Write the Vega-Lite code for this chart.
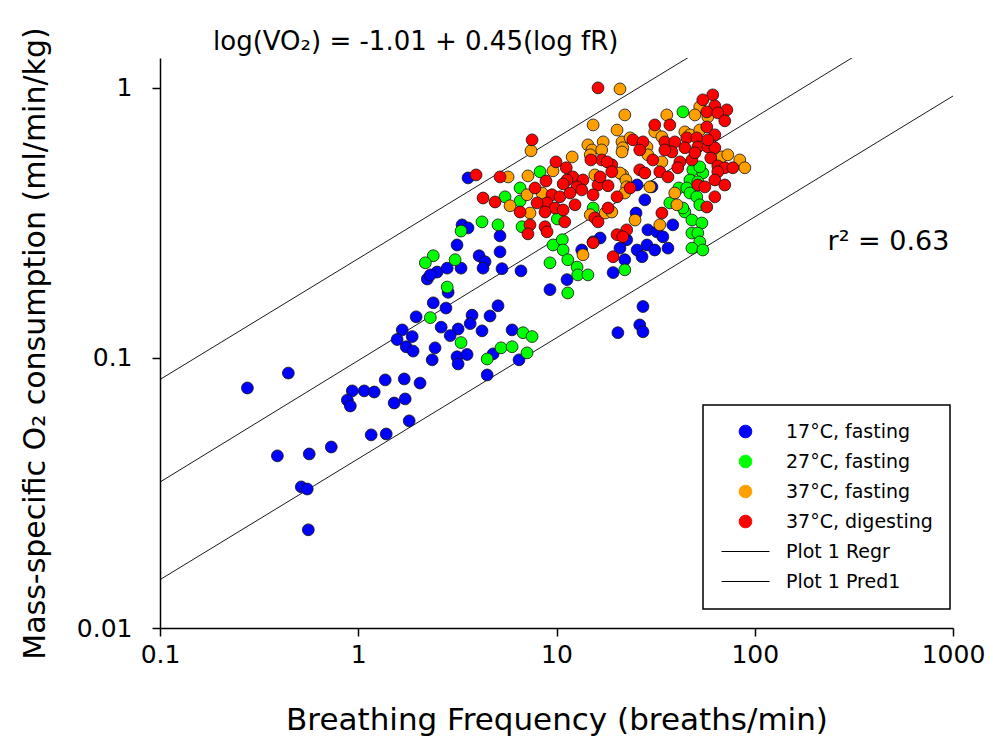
{
  "$schema": "https://vega.github.io/schema/vega-lite/v6.json",
  "width": 793,
  "height": 570,
  "autosize": {"type": "none"},
  "padding": {"left": 160, "top": 58, "right": 40, "bottom": 124},
  "background": "white",
  "title": {"text": "log(VO₂) = -1.01 + 0.45(log fR)", "anchor": "start", "frame": "group", "dx": 53, "offset": -28, "fontSize": 26, "font": "DejaVu Sans", "fontWeight": "normal", "color": "black"},
  "datasets": {
    "lines": [
      {"x": 0.1, "y": 0.0347, "s": "Plot 1 Regr", "id": "m"},
      {"x": 1000, "y": 2.19, "s": "Plot 1 Regr", "id": "m"},
      {"x": 0.1, "y": 0.0832, "s": "Plot 1 Pred1", "id": "u"},
      {"x": 1000, "y": 5.13, "s": "Plot 1 Pred1", "id": "u"},
      {"x": 0.1, "y": 0.0151, "s": "Plot 1 Pred1", "id": "l"},
      {"x": 1000, "y": 0.933, "s": "Plot 1 Pred1", "id": "l"}
    ],
    "pts": [
      {"x":0.276,"y":0.0774,"s":"17°C, fasting"},{"x":0.444,"y":0.0879,"s":"17°C, fasting"},{"x":0.391,"y":0.0434,"s":"17°C, fasting"},{"x":0.566,"y":0.0441,"s":"17°C, fasting"},{"x":0.731,"y":0.0468,"s":"17°C, fasting"},{"x":0.516,"y":0.0333,"s":"17°C, fasting"},{"x":0.553,"y":0.0327,"s":"17°C, fasting"},{"x":0.56,"y":0.0231,"s":"17°C, fasting"},{"x":0.933,"y":0.0755,"s":"17°C, fasting"},{"x":1.072,"y":0.0755,"s":"17°C, fasting"},{"x":1.204,"y":0.0748,"s":"17°C, fasting"},{"x":0.881,"y":0.0698,"s":"17°C, fasting"},{"x":0.912,"y":0.0664,"s":"17°C, fasting"},{"x":1.368,"y":0.0829,"s":"17°C, fasting"},{"x":1.706,"y":0.0836,"s":"17°C, fasting"},{"x":2.05,"y":0.0807,"s":"17°C, fasting"},{"x":1.518,"y":0.0681,"s":"17°C, fasting"},{"x":1.725,"y":0.0705,"s":"17°C, fasting"},{"x":1.807,"y":0.0585,"s":"17°C, fasting"},{"x":1.162,"y":0.0519,"s":"17°C, fasting"},{"x":1.384,"y":0.0523,"s":"17°C, fasting"},{"x":1.667,"y":0.127,"s":"17°C, fasting"},{"x":1.871,"y":0.12,"s":"17°C, fasting"},{"x":1.571,"y":0.117,"s":"17°C, fasting"},{"x":1.745,"y":0.11,"s":"17°C, fasting"},{"x":1.892,"y":0.106,"s":"17°C, fasting"},{"x":1.959,"y":0.142,"s":"17°C, fasting"},{"x":2.36,"y":0.0984,"s":"17°C, fasting"},{"x":3.58,"y":0.464,"s":"17°C, fasting"},{"x":3.34,"y":0.311,"s":"17°C, fasting"},{"x":3.58,"y":0.303,"s":"17°C, fasting"},{"x":3.15,"y":0.262,"s":"17°C, fasting"},{"x":5.19,"y":0.283,"s":"17°C, fasting"},{"x":5.19,"y":0.247,"s":"17°C, fasting"},{"x":4.07,"y":0.239,"s":"17°C, fasting"},{"x":4.36,"y":0.227,"s":"17°C, fasting"},{"x":4.26,"y":0.215,"s":"17°C, fasting"},{"x":5.31,"y":0.214,"s":"17°C, fasting"},{"x":6.62,"y":0.21,"s":"17°C, fasting"},{"x":2.5,"y":0.208,"s":"17°C, fasting"},{"x":2.81,"y":0.215,"s":"17°C, fasting"},{"x":3.3,"y":0.215,"s":"17°C, fasting"},{"x":2.23,"y":0.196,"s":"17°C, fasting"},{"x":2.31,"y":0.203,"s":"17°C, fasting"},{"x":2.84,"y":0.175,"s":"17°C, fasting"},{"x":2.39,"y":0.16,"s":"17°C, fasting"},{"x":2.77,"y":0.153,"s":"17°C, fasting"},{"x":3.75,"y":0.144,"s":"17°C, fasting"},{"x":3.67,"y":0.134,"s":"17°C, fasting"},{"x":5.07,"y":0.156,"s":"17°C, fasting"},{"x":4.62,"y":0.143,"s":"17°C, fasting"},{"x":4.21,"y":0.126,"s":"17°C, fasting"},{"x":2.62,"y":0.13,"s":"17°C, fasting"},{"x":3.19,"y":0.128,"s":"17°C, fasting"},{"x":2.91,"y":0.121,"s":"17°C, fasting"},{"x":2.44,"y":0.109,"s":"17°C, fasting"},{"x":3.15,"y":0.101,"s":"17°C, fasting"},{"x":3.54,"y":0.103,"s":"17°C, fasting"},{"x":3.19,"y":0.095,"s":"17°C, fasting"},{"x":4.79,"y":0.1035,"s":"17°C, fasting"},{"x":5.97,"y":0.127,"s":"17°C, fasting"},{"x":6.47,"y":0.0984,"s":"17°C, fasting"},{"x":4.47,"y":0.0865,"s":"17°C, fasting"},{"x":13.4,"y":0.251,"s":"17°C, fasting"},{"x":11.3,"y":0.195,"s":"17°C, fasting"},{"x":9.27,"y":0.179,"s":"17°C, fasting"},{"x":16.6,"y":0.278,"s":"17°C, fasting"},{"x":15.3,"y":0.269,"s":"17°C, fasting"},{"x":22.6,"y":0.274,"s":"17°C, fasting"},{"x":20.9,"y":0.255,"s":"17°C, fasting"},{"x":22.1,"y":0.231,"s":"17°C, fasting"},{"x":25.5,"y":0.251,"s":"17°C, fasting"},{"x":27.0,"y":0.237,"s":"17°C, fasting"},{"x":28.6,"y":0.262,"s":"17°C, fasting"},{"x":19.3,"y":0.207,"s":"17°C, fasting"},{"x":27.3,"y":0.155,"s":"17°C, fasting"},{"x":20.4,"y":0.124,"s":"17°C, fasting"},{"x":26.3,"y":0.1325,"s":"17°C, fasting"},{"x":27.3,"y":0.125,"s":"17°C, fasting"},{"x":28.9,"y":0.298,"s":"17°C, fasting"},{"x":32.1,"y":0.293,"s":"17°C, fasting"},{"x":34.4,"y":0.281,"s":"17°C, fasting"},{"x":36.5,"y":0.255,"s":"17°C, fasting"},{"x":31.3,"y":0.251,"s":"17°C, fasting"},{"x":38.6,"y":0.311,"s":"17°C, fasting"},{"x":27.9,"y":0.385,"s":"17°C, fasting"},{"x":25.5,"y":0.437,"s":"17°C, fasting"},{"x":30.3,"y":0.43,"s":"17°C, fasting"},{"x":25.2,"y":0.344,"s":"17°C, fasting"},
      {"x":2.31,"y":0.141,"s":"27°C, fasting"},{"x":3.3,"y":0.295,"s":"27°C, fasting"},{"x":4.21,"y":0.319,"s":"27°C, fasting"},{"x":5.07,"y":0.311,"s":"27°C, fasting"},{"x":2.39,"y":0.239,"s":"27°C, fasting"},{"x":2.18,"y":0.225,"s":"27°C, fasting"},{"x":3.08,"y":0.231,"s":"27°C, fasting"},{"x":2.81,"y":0.183,"s":"27°C, fasting"},{"x":3.3,"y":0.114,"s":"27°C, fasting"},{"x":4.47,"y":0.0991,"s":"27°C, fasting"},{"x":5.25,"y":0.109,"s":"27°C, fasting"},{"x":5.97,"y":0.11,"s":"27°C, fasting"},{"x":6.78,"y":0.124,"s":"27°C, fasting"},{"x":7.53,"y":0.12,"s":"27°C, fasting"},{"x":7.1,"y":0.1044,"s":"27°C, fasting"},{"x":8.26,"y":0.489,"s":"27°C, fasting"},{"x":6.55,"y":0.426,"s":"27°C, fasting"},{"x":5.5,"y":0.395,"s":"27°C, fasting"},{"x":6.55,"y":0.381,"s":"27°C, fasting"},{"x":10.1,"y":0.327,"s":"27°C, fasting"},{"x":6.7,"y":0.306,"s":"27°C, fasting"},{"x":9.6,"y":0.262,"s":"27°C, fasting"},{"x":10.7,"y":0.274,"s":"27°C, fasting"},{"x":10.8,"y":0.251,"s":"27°C, fasting"},{"x":11.4,"y":0.231,"s":"27°C, fasting"},{"x":9.27,"y":0.225,"s":"27°C, fasting"},{"x":12.7,"y":0.217,"s":"27°C, fasting"},{"x":12.8,"y":0.203,"s":"27°C, fasting"},{"x":14.4,"y":0.203,"s":"27°C, fasting"},{"x":11.4,"y":0.174,"s":"27°C, fasting"},{"x":15.3,"y":0.359,"s":"27°C, fasting"},{"x":22.1,"y":0.212,"s":"27°C, fasting"},{"x":43.4,"y":0.815,"s":"27°C, fasting"},{"x":48.7,"y":0.497,"s":"27°C, fasting"},{"x":54.7,"y":0.484,"s":"27°C, fasting"},{"x":52.8,"y":0.51,"s":"27°C, fasting"},{"x":47.1,"y":0.456,"s":"27°C, fasting"},{"x":51.6,"y":0.449,"s":"27°C, fasting"},{"x":41.4,"y":0.426,"s":"27°C, fasting"},{"x":45.4,"y":0.426,"s":"27°C, fasting"},{"x":47.1,"y":0.408,"s":"27°C, fasting"},{"x":51.0,"y":0.395,"s":"27°C, fasting"},{"x":52.8,"y":0.369,"s":"27°C, fasting"},{"x":37.3,"y":0.375,"s":"27°C, fasting"},{"x":44.4,"y":0.347,"s":"27°C, fasting"},{"x":48.2,"y":0.324,"s":"27°C, fasting"},{"x":54.1,"y":0.316,"s":"27°C, fasting"},{"x":48.2,"y":0.29,"s":"27°C, fasting"},{"x":51.6,"y":0.29,"s":"27°C, fasting"},{"x":52.8,"y":0.269,"s":"27°C, fasting"},{"x":48.2,"y":0.255,"s":"27°C, fasting"},{"x":54.7,"y":0.251,"s":"27°C, fasting"},{"x":43.4,"y":0.359,"s":"27°C, fasting"},
      {"x":5.7,"y":0.468,"s":"37°C, fasting"},{"x":20.9,"y":0.991,"s":"37°C, fasting"},{"x":22.1,"y":0.794,"s":"37°C, fasting"},{"x":15.3,"y":0.729,"s":"37°C, fasting"},{"x":20.2,"y":0.698,"s":"37°C, fasting"},{"x":7.44,"y":0.585,"s":"37°C, fasting"},{"x":14.4,"y":0.615,"s":"37°C, fasting"},{"x":17.2,"y":0.631,"s":"37°C, fasting"},{"x":15.1,"y":0.589,"s":"37°C, fasting"},{"x":16.9,"y":0.589,"s":"37°C, fasting"},{"x":21.4,"y":0.631,"s":"37°C, fasting"},{"x":21.6,"y":0.6,"s":"37°C, fasting"},{"x":12.0,"y":0.555,"s":"37°C, fasting"},{"x":14.8,"y":0.565,"s":"37°C, fasting"},{"x":9.6,"y":0.493,"s":"37°C, fasting"},{"x":7.18,"y":0.472,"s":"37°C, fasting"},{"x":15.6,"y":0.476,"s":"37°C, fasting"},{"x":16.6,"y":0.445,"s":"37°C, fasting"},{"x":21.6,"y":0.476,"s":"37°C, fasting"},{"x":7.1,"y":0.402,"s":"37°C, fasting"},{"x":8.45,"y":0.408,"s":"37°C, fasting"},{"x":5.83,"y":0.366,"s":"37°C, fasting"},{"x":7.35,"y":0.344,"s":"37°C, fasting"},{"x":14.8,"y":0.339,"s":"37°C, fasting"},{"x":17.6,"y":0.344,"s":"37°C, fasting"},{"x":13.6,"y":0.241,"s":"37°C, fasting"},{"x":52.8,"y":0.851,"s":"37°C, fasting"},{"x":36.0,"y":0.794,"s":"37°C, fasting"},{"x":49.9,"y":0.794,"s":"37°C, fasting"},{"x":58.0,"y":0.781,"s":"37°C, fasting"},{"x":31.3,"y":0.687,"s":"37°C, fasting"},{"x":34.0,"y":0.659,"s":"37°C, fasting"},{"x":44.4,"y":0.687,"s":"37°C, fasting"},{"x":47.1,"y":0.67,"s":"37°C, fasting"},{"x":23.5,"y":0.653,"s":"37°C, fasting"},{"x":21.4,"y":0.579,"s":"37°C, fasting"},{"x":28.6,"y":0.604,"s":"37°C, fasting"},{"x":28.9,"y":0.565,"s":"37°C, fasting"},{"x":34.0,"y":0.532,"s":"37°C, fasting"},{"x":68.2,"y":0.555,"s":"37°C, fasting"},{"x":20.9,"y":0.484,"s":"37°C, fasting"},{"x":22.4,"y":0.456,"s":"37°C, fasting"},{"x":22.6,"y":0.43,"s":"37°C, fasting"},{"x":29.6,"y":0.43,"s":"37°C, fasting"},{"x":22.1,"y":0.408,"s":"37°C, fasting"},{"x":39.5,"y":0.408,"s":"37°C, fasting"},{"x":40.5,"y":0.369,"s":"37°C, fasting"},{"x":33.2,"y":0.311,"s":"37°C, fasting"},{"x":24.9,"y":0.324,"s":"37°C, fasting"},{"x":19.0,"y":0.347,"s":"37°C, fasting"},{"x":52.8,"y":0.698,"s":"37°C, fasting"},{"x":73.1,"y":0.565,"s":"37°C, fasting"},{"x":84.0,"y":0.541,"s":"37°C, fasting"},{"x":89.1,"y":0.506,"s":"37°C, fasting"},
      {"x":3.93,"y":0.476,"s":"37°C, digesting"},{"x":5.19,"y":0.468,"s":"37°C, digesting"},{"x":16.2,"y":1.0,"s":"37°C, digesting"},{"x":7.53,"y":0.642,"s":"37°C, digesting"},{"x":9.94,"y":0.532,"s":"37°C, digesting"},{"x":16.9,"y":0.541,"s":"37°C, digesting"},{"x":19.0,"y":0.519,"s":"37°C, digesting"},{"x":11.2,"y":0.506,"s":"37°C, digesting"},{"x":8.85,"y":0.452,"s":"37°C, digesting"},{"x":12.1,"y":0.468,"s":"37°C, digesting"},{"x":13.6,"y":0.456,"s":"37°C, digesting"},{"x":11.3,"y":0.456,"s":"37°C, digesting"},{"x":12.7,"y":0.43,"s":"37°C, digesting"},{"x":16.2,"y":0.437,"s":"37°C, digesting"},{"x":18.2,"y":0.434,"s":"37°C, digesting"},{"x":7.79,"y":0.426,"s":"37°C, digesting"},{"x":9.49,"y":0.402,"s":"37°C, digesting"},{"x":10.4,"y":0.395,"s":"37°C, digesting"},{"x":11.7,"y":0.408,"s":"37°C, digesting"},{"x":13.4,"y":0.419,"s":"37°C, digesting"},{"x":15.3,"y":0.402,"s":"37°C, digesting"},{"x":20.2,"y":0.395,"s":"37°C, digesting"},{"x":4.26,"y":0.391,"s":"37°C, digesting"},{"x":4.9,"y":0.378,"s":"37°C, digesting"},{"x":6.55,"y":0.347,"s":"37°C, digesting"},{"x":8.96,"y":0.375,"s":"37°C, digesting"},{"x":9.83,"y":0.359,"s":"37°C, digesting"},{"x":8.75,"y":0.347,"s":"37°C, digesting"},{"x":12.4,"y":0.369,"s":"37°C, digesting"},{"x":10.8,"y":0.353,"s":"37°C, digesting"},{"x":15.6,"y":0.33,"s":"37°C, digesting"},{"x":16.2,"y":0.319,"s":"37°C, digesting"},{"x":18.2,"y":0.359,"s":"37°C, digesting"},{"x":11.0,"y":0.319,"s":"37°C, digesting"},{"x":7.35,"y":0.311,"s":"37°C, digesting"},{"x":7.18,"y":0.288,"s":"37°C, digesting"},{"x":8.75,"y":0.306,"s":"37°C, digesting"},{"x":8.96,"y":0.293,"s":"37°C, digesting"},{"x":15.3,"y":0.267,"s":"37°C, digesting"},{"x":20.2,"y":0.286,"s":"37°C, digesting"},{"x":22.6,"y":0.298,"s":"37°C, digesting"},{"x":19.3,"y":0.237,"s":"37°C, digesting"},{"x":7.98,"y":0.375,"s":"37°C, digesting"},{"x":10.8,"y":0.441,"s":"37°C, digesting"},{"x":14.9,"y":0.541,"s":"37°C, digesting"},{"x":61.4,"y":0.942,"s":"37°C, digesting"},{"x":54.7,"y":0.903,"s":"37°C, digesting"},{"x":62.9,"y":0.858,"s":"37°C, digesting"},{"x":72.3,"y":0.829,"s":"37°C, digesting"},{"x":57.3,"y":0.815,"s":"37°C, digesting"},{"x":65.1,"y":0.808,"s":"37°C, digesting"},{"x":70.6,"y":0.755,"s":"37°C, digesting"},{"x":31.3,"y":0.729,"s":"37°C, digesting"},{"x":37.3,"y":0.729,"s":"37°C, digesting"},{"x":57.3,"y":0.717,"s":"37°C, digesting"},{"x":62.9,"y":0.67,"s":"37°C, digesting"},{"x":45.4,"y":0.653,"s":"37°C, digesting"},{"x":51.0,"y":0.653,"s":"37°C, digesting"},{"x":24.3,"y":0.642,"s":"37°C, digesting"},{"x":27.3,"y":0.631,"s":"37°C, digesting"},{"x":26.3,"y":0.589,"s":"37°C, digesting"},{"x":35.2,"y":0.631,"s":"37°C, digesting"},{"x":39.5,"y":0.631,"s":"37°C, digesting"},{"x":44.4,"y":0.6,"s":"37°C, digesting"},{"x":38.2,"y":0.579,"s":"37°C, digesting"},{"x":51.6,"y":0.604,"s":"37°C, digesting"},{"x":58.0,"y":0.604,"s":"37°C, digesting"},{"x":62.9,"y":0.6,"s":"37°C, digesting"},{"x":58.0,"y":0.642,"s":"37°C, digesting"},{"x":30.6,"y":0.541,"s":"37°C, digesting"},{"x":41.9,"y":0.532,"s":"37°C, digesting"},{"x":48.2,"y":0.541,"s":"37°C, digesting"},{"x":40.9,"y":0.506,"s":"37°C, digesting"},{"x":60.0,"y":0.55,"s":"37°C, digesting"},{"x":65.1,"y":0.514,"s":"37°C, digesting"},{"x":70.6,"y":0.506,"s":"37°C, digesting"},{"x":77.5,"y":0.506,"s":"37°C, digesting"},{"x":65.1,"y":0.489,"s":"37°C, digesting"},{"x":18.0,"y":0.532,"s":"37°C, digesting"},{"x":26.3,"y":0.497,"s":"37°C, digesting"},{"x":27.9,"y":0.484,"s":"37°C, digesting"},{"x":33.2,"y":0.489,"s":"37°C, digesting"},{"x":36.5,"y":0.468,"s":"37°C, digesting"},{"x":23.5,"y":0.426,"s":"37°C, digesting"},{"x":62.9,"y":0.456,"s":"37°C, digesting"},{"x":70.6,"y":0.437,"s":"37°C, digesting"},{"x":51.6,"y":0.437,"s":"37°C, digesting"},{"x":56.0,"y":0.43,"s":"37°C, digesting"},{"x":62.9,"y":0.395,"s":"37°C, digesting"},{"x":57.3,"y":0.362,"s":"37°C, digesting"},{"x":34.0,"y":0.344,"s":"37°C, digesting"},{"x":16.6,"y":0.468,"s":"37°C, digesting"},{"x":35.2,"y":0.589,"s":"37°C, digesting"},{"x":49.9,"y":0.575,"s":"37°C, digesting"},{"x":21.6,"y":0.281,"s":"37°C, digesting"},{"x":19.0,"y":0.489,"s":"37°C, digesting"}
    ]
  },
  "encoding": {
    "x": {"field": "x", "type": "quantitative", "scale": {"type": "log", "domain": [0.1, 1000], "nice": false},
      "axis": {"values": [0.1, 1, 10, 100, 1000], "format": "~g", "title": "Breathing Frequency (breaths/min)"}},
    "y": {"field": "y", "type": "quantitative", "scale": {"type": "log", "domain": [0.01, 1.29], "nice": false},
      "axis": {"values": [0.01, 0.1, 1], "format": "~g", "title": "Mass-specific O₂ consumption (ml/min/kg)"}}
  },
  "layer": [
    {
      "data": {"name": "lines"},
      "mark": {"type": "line", "clip": true, "strokeWidth": 0.9},
      "encoding": {
        "color": {"field": "s", "type": "nominal",
          "scale": {"domain": ["17°C, fasting", "27°C, fasting", "37°C, fasting", "37°C, digesting", "Plot 1 Regr", "Plot 1 Pred1"],
                    "range": ["#0000FF", "#00FF00", "#FFA000", "#FF0000", "#000000", "#000000"]},
          "legend": {"title": null, "encode": {"symbols": {"update": {"size": {"signal": "indexof(['Plot 1 Regr','Plot 1 Pred1'], datum.value) >= 0 ? 2300 : 160"}}}}}},
        "detail": {"field": "id"}
      }
    },
    {
      "data": {"name": "pts"},
      "mark": {"type": "point", "filled": true, "opacity": 1, "stroke": "#111111", "strokeWidth": 0.8, "size": 140},
      "encoding": {
        "color": {"field": "s", "type": "nominal",
          "scale": {"domain": ["17°C, fasting", "27°C, fasting", "37°C, fasting", "37°C, digesting", "Plot 1 Regr", "Plot 1 Pred1"],
                    "range": ["#0000FF", "#00FF00", "#FFA000", "#FF0000", "#000000", "#000000"]},
          "legend": {"title": null, "encode": {"symbols": {"update": {"size": {"signal": "indexof(['Plot 1 Regr','Plot 1 Pred1'], datum.value) >= 0 ? 2300 : 160"}}}}}},
        "shape": {"field": "s", "type": "nominal",
          "scale": {"domain": ["17°C, fasting", "27°C, fasting", "37°C, fasting", "37°C, digesting", "Plot 1 Regr", "Plot 1 Pred1"],
                    "range": ["circle", "circle", "circle", "circle", "stroke", "stroke"]},
          "legend": {"title": null, "encode": {"symbols": {"update": {"size": {"signal": "indexof(['Plot 1 Regr','Plot 1 Pred1'], datum.value) >= 0 ? 2300 : 160"}}}}}}
      }
    },
    {
      "data": {"values": [{"x": 233, "y": 0.269, "t": "r² = 0.63"}]},
      "mark": {"type": "text", "align": "left", "baseline": "middle", "fontSize": 27, "font": "DejaVu Sans", "color": "black"},
      "encoding": {"text": {"field": "t"}}
    }
  ],
  "config": {
    "view": {"stroke": null},
    "axis": {"domainColor": "black", "domainWidth": 1.5, "tickColor": "black", "tickWidth": 1.5, "tickSize": 8,
      "labelFont": "DejaVu Sans", "labelFontSize": 25, "labelColor": "black", "labelFlush": false, "labelOverlap": false, "labelBound": false,
      "titleFont": "DejaVu Sans", "titleFontSize": 31, "titleFontWeight": "normal", "titleColor": "black", "grid": false},
    "axisX": {"labelPadding": 6, "titlePadding": 38},
    "axisY": {"labelPadding": 20, "titlePadding": 26, "titleFontSize": 30},
    "legend": {"orient": "none", "legendX": 543, "legendY": 347, "strokeColor": "black", "strokeWidth": 1.5, "fillColor": "white",
      "padding": 17, "labelFont": "DejaVu Sans", "labelFontSize": 19, "labelColor": "black", "rowPadding": 10, "labelOffset": 31, "symbolOffset": 16,
      "symbolSize": 2300, "symbolStrokeColor": "black", "symbolStrokeWidth": 1}
  }
}
